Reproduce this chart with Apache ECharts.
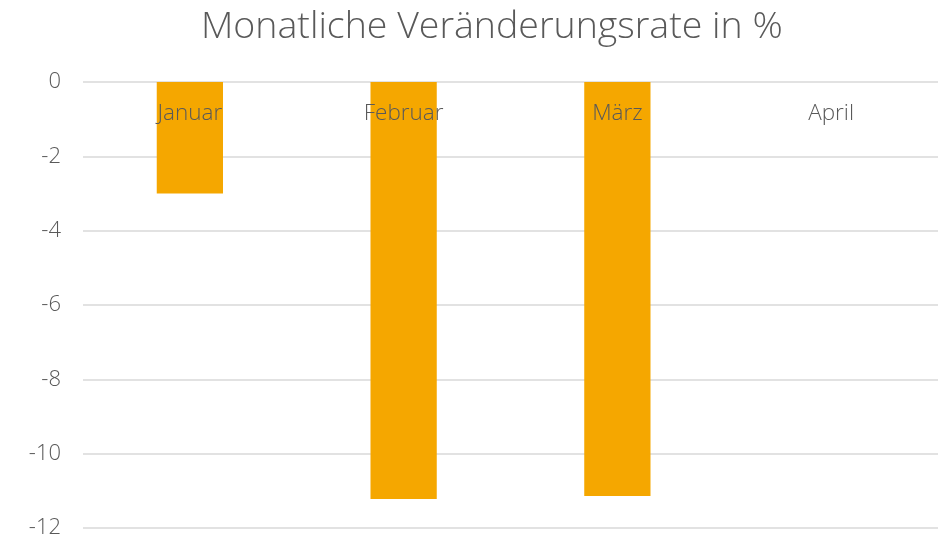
<!DOCTYPE html>
<html>
<head>
<meta charset="utf-8">
<script src="https://cdn.jsdelivr.net/npm/echarts@6/dist/echarts.min.js"></script>
<style>html,body{margin:0;padding:0;background:#fff}#c{width:950px;height:539px}</style>
</head>
<body>
<div id="c"></div>
<script>
const categories = ['Januar', 'Februar', 'März', 'April'];
const values = [-3, -11.22, -11.14, 0];
const yTicks = { min: -12, max: 0, interval: 2 };

const FONT = 'Open Sans';
const chart = echarts.init(document.getElementById('c'), null, { renderer: 'canvas' });
chart.setOption({
  animation: false,
  backgroundColor: '#ffffff',
  title: {
    text: 'Monatliche Veränderungsrate in %',
    left: 196,
    top: 3,
    textStyle: { fontFamily: FONT, fontSize: 37.5, fontWeight: 300, color: '#595959' }
  },
  grid: { left: 83, right: 12, top: 82, bottom: 9, containLabel: false },
  xAxis: {
    type: 'category',
    data: categories,
    position: 'top',
    z: 10,
    axisLine: { show: false },
    axisTick: { show: false },
    axisLabel: { inside: true, margin: 20, fontFamily: FONT, fontSize: 22.5, fontWeight: 300, color: '#595959' },
    splitLine: { show: false }
  },
  yAxis: {
    type: 'value',
    min: yTicks.min,
    max: yTicks.max,
    interval: yTicks.interval,
    axisLine: { show: false },
    axisTick: { show: false },
    axisLabel: { margin: 22, fontFamily: FONT, fontSize: 22, fontWeight: 300, color: '#595959' },
    splitLine: { lineStyle: { color: '#d9d9d9', width: 1.5 } }
  },
  series: [{
    type: 'bar',
    data: values,
    barWidth: '31%',
    itemStyle: { color: '#F5A700' },
    z: 1
  }]
});
</script>
</body>
</html>
